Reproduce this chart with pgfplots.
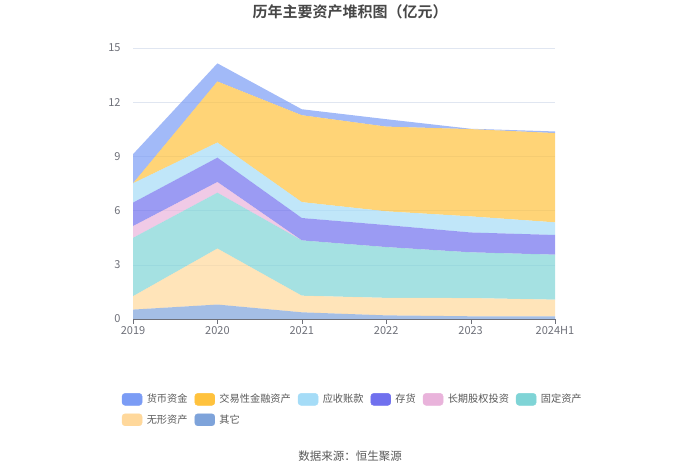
\documentclass[border=0pt]{standalone}
\usepackage{fontspec}
\setmainfont{Noto Sans CJK SC}[BoldFont={Noto Sans CJK SC Bold}]
\usepackage{pgfplots}
\pgfplotsset{compat=1.18}

\definecolor{cCash}{HTML}{7B9CF5}
\definecolor{cTrade}{HTML}{FFC23D}
\definecolor{cRecv}{HTML}{A5DCF7}
\definecolor{cInv}{HTML}{7070EE}
\definecolor{cLT}{HTML}{E9B3DB}
\definecolor{cFixed}{HTML}{7FD4D6}
\definecolor{cIntan}{HTML}{FFD89B}
\definecolor{cOther}{HTML}{7EA3DA}
\definecolor{axisgrey}{HTML}{6E7079}
\definecolor{gridgrey}{HTML}{E0E6F1}

\newcommand{\legimg}[1]{\addlegendimage{legend image code/.code={\fill[#1,rounded corners=3pt] (0pt,-6pt) rectangle (20pt,6pt);}}}

\begin{document}
\begin{tikzpicture}[x=1pt,y=1pt]
\path[use as bounding box] (0,0) rectangle (700,473);
\node[font=\fontsize{15}{18}\selectfont\bfseries, text=black!72] at (350,461) {历年主要资产堆积图（亿元）};
\node[font=\fontsize{11.5}{14}\selectfont, text=black!65] at (350,17) {数据来源：恒生聚源};
\begin{axis}[
    at={(133pt,154pt)}, anchor=south west,
    scale only axis, width=422pt, height=271pt,
    xmin=0, xmax=5, ymin=0, ymax=15,
    xtick={0,1,2,3,4,5},
    xticklabels={2019,2020,2021,2022,2023,2024H1},
    ytick={0,3,6,9,12,15},
    stack plots=y,
    axis x line*=bottom, axis y line*=left,
    y axis line style={draw=none},
    x axis line style={draw=axisgrey, -},
    xtick style={draw=axisgrey},
    ytick style={draw=none},
    tick align=outside, major tick length=5pt,
    ymajorgrids, major grid style={draw=gridgrey},
    tick label style={font=\fontsize{11}{13}\selectfont, text=axisgrey},
    yticklabel style={xshift=-4pt},
    xticklabel style={yshift=1pt},
    /pgf/number format/assume math mode=true,
    legend columns=6,
    legend cell align=left,
    legend style={at={(-0.0268,-0.273)}, anchor=north west, draw=none, fill=none,
        inner sep=0pt, row sep=8pt,
        nodes={inner sep=0pt, font=\fontsize{10.2}{12}\selectfont, text=black!65},
        /tikz/every odd column/.append style={column sep=4.5pt},
        /tikz/every even column/.append style={column sep=7pt}},
]
% stacking order: bottom to top
\addplot[draw=none, fill=cOther, fill opacity=0.7, forget plot] coordinates {
    (0,0.52) (1,0.80) (2,0.37) (3,0.20) (4,0.15) (5,0.15)} \closedcycle;
\addplot[draw=none, fill=cIntan, fill opacity=0.7, forget plot] coordinates {
    (0,0.74) (1,3.10) (2,0.92) (3,0.97) (4,1.01) (5,0.92)} \closedcycle;
\addplot[draw=none, fill=cFixed, fill opacity=0.7, forget plot] coordinates {
    (0,3.23) (1,3.09) (2,3.06) (3,2.81) (4,2.53) (5,2.49)} \closedcycle;
\addplot[draw=none, fill=cLT, fill opacity=0.7, forget plot] coordinates {
    (0,0.65) (1,0.59) (2,0.00) (3,0.00) (4,0.00) (5,0.00)} \closedcycle;
\addplot[draw=none, fill=cInv, fill opacity=0.7, forget plot] coordinates {
    (0,1.30) (1,1.35) (2,1.24) (3,1.22) (4,1.10) (5,1.09)} \closedcycle;
\addplot[draw=none, fill=cRecv, fill opacity=0.7, forget plot] coordinates {
    (0,1.07) (1,0.84) (2,0.88) (3,0.76) (4,0.89) (5,0.70)} \closedcycle;
\addplot[draw=none, fill=cTrade, fill opacity=0.7, forget plot] coordinates {
    (0,0.00) (1,3.38) (2,4.81) (3,4.69) (4,4.83) (5,4.94)} \closedcycle;
\addplot[draw=none, fill=cCash, fill opacity=0.7, forget plot] coordinates {
    (0,1.61) (1,1.00) (2,0.33) (3,0.41) (4,0.02) (5,0.09)} \closedcycle;

\legimg{cCash}\addlegendentry{货币资金}
\legimg{cTrade}\addlegendentry{交易性金融资产}
\legimg{cRecv}\addlegendentry{应收账款}
\legimg{cInv}\addlegendentry{存货}
\legimg{cLT}\addlegendentry{长期股权投资}
\legimg{cFixed}\addlegendentry{固定资产}
\legimg{cIntan}\addlegendentry{无形资产}
\legimg{cOther}\addlegendentry{其它}
\end{axis}
\end{tikzpicture}
\end{document}
